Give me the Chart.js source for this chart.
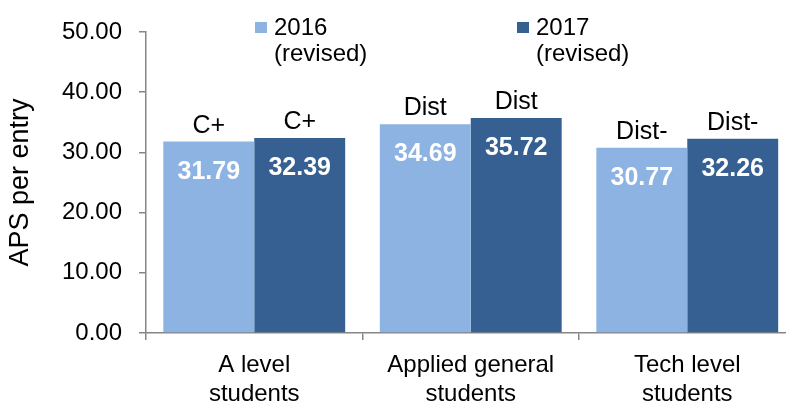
<!DOCTYPE html>
<html>
<head>
<meta charset="utf-8">
<script src="https://cdn.jsdelivr.net/npm/chart.js@4/dist/chart.umd.min.js"></script>
<style>
  html, body { margin: 0; padding: 0; background: #fff; overflow: hidden; }
  #wrap { width: 800px; height: 405px; position: relative; }
</style>
</head>
<body>
<div id="wrap"><canvas id="apsChart"></canvas></div>
<script>
// chart data
var categories = [["A level", "students"], ["Applied general", "students"], ["Tech level", "students"]];
var seriesNames = [["2016", "(revised)"], ["2017", "(revised)"]];
var aps2016 = [31.79, 34.69, 30.77];
var aps2017 = [32.39, 35.72, 32.26];
var grades2016 = ["C+", "Dist", "Dist-"];
var grades2017 = ["C+", "Dist", "Dist-"];
var yTicks = [0, 10, 20, 30, 40, 50];

var FONT = "'Liberation Sans', Arial, sans-serif";
var colours = ["#8DB3E2", "#366092"];
var grades = [grades2016, grades2017];

// white values inside the bars, grade text above them
var barLabels = {
  id: 'barLabels',
  afterDatasetsDraw: function(chart) {
    var ctx = chart.ctx;
    ctx.save();
    ctx.textAlign = 'center';
    ctx.textBaseline = 'alphabetic';
    chart.data.datasets.forEach(function(ds, i) {
      var meta = chart.getDatasetMeta(i);
      meta.data.forEach(function(bar, j) {
        ctx.fillStyle = '#fff';
        ctx.font = 'bold 25px ' + FONT;
        ctx.fillText(ds.data[j].toFixed(2), bar.x, bar.y + 37);
        ctx.fillStyle = '#000';
        ctx.font = '25px ' + FONT;
        ctx.fillText(grades[i][j], bar.x, bar.y - 9);
      });
    });
    ctx.restore();
  }
};

// legend with two-line labels sitting inside the plot
var twoLineLegend = {
  id: 'twoLineLegend',
  afterDraw: function(chart) {
    var ctx = chart.ctx;
    var xs = [255, 517];
    ctx.save();
    ctx.font = '24px ' + FONT;
    ctx.textBaseline = 'middle';
    ctx.textAlign = 'left';
    seriesNames.forEach(function(lines, i) {
      ctx.fillStyle = colours[i];
      ctx.fillRect(xs[i], 22, 12, 11);
      ctx.fillStyle = '#000';
      lines.forEach(function(t, k) {
        ctx.fillText(t, xs[i] + 19, 28 + k * 26);
      });
    });
    ctx.restore();
  }
};

var ctx = document.getElementById('apsChart').getContext('2d');
var apsChart = new Chart(ctx, {
  type: 'bar',
  data: {
    labels: categories,
    datasets: [{
      label: seriesNames[0].join(' '),
      data: aps2016,
      backgroundColor: colours[0],
      borderWidth: 0
    }, {
      label: seriesNames[1].join(' '),
      data: aps2017,
      backgroundColor: colours[1],
      borderWidth: 0
    }]
  },
  options: {
    responsive: true,
    maintainAspectRatio: false,
    animation: false,
    events: [],
    layout: { padding: { left: 0, right: 4.5, top: 32, bottom: 0 } },
    datasets: { bar: { categoryPercentage: 0.84, barPercentage: 1.0 } },
    plugins: {
      legend: { display: false },
      tooltip: { enabled: false }
    },
    scales: {
      x: {
        grid: { display: true, drawOnChartArea: false, drawTicks: true, tickLength: 7, color: '#868686', lineWidth: 1.5, offset: true },
        border: { display: true, color: '#868686', width: 1.5 },
        ticks: { color: '#000', font: { family: FONT, size: 24, lineHeight: 1.2 }, padding: 11, maxRotation: 0, autoSkip: false },
        afterFit: function(scale) { scale.height = 72; }
      },
      y: {
        min: 0,
        max: 50,
        afterBuildTicks: function(scale) {
          scale.ticks = yTicks.map(function(v) { return { value: v }; });
        },
        grid: { display: true, drawOnChartArea: false, drawTicks: true, tickLength: 7, color: '#868686', lineWidth: 1.5 },
        border: { display: true, color: '#868686', width: 1.5 },
        ticks: {
          color: '#000',
          font: { family: FONT, size: 24 },
          padding: 17,
          callback: function(v) { return Number(v).toFixed(2); }
        },
        title: {
          display: true,
          text: 'APS per entry',
          color: '#000',
          font: { family: FONT, size: 27 },
          padding: { top: 4, bottom: 0 }
        },
        afterFit: function(scale) { scale.width = 146; }
      }
    }
  },
  plugins: [barLabels, twoLineLegend]
});
</script>
</body>
</html>
